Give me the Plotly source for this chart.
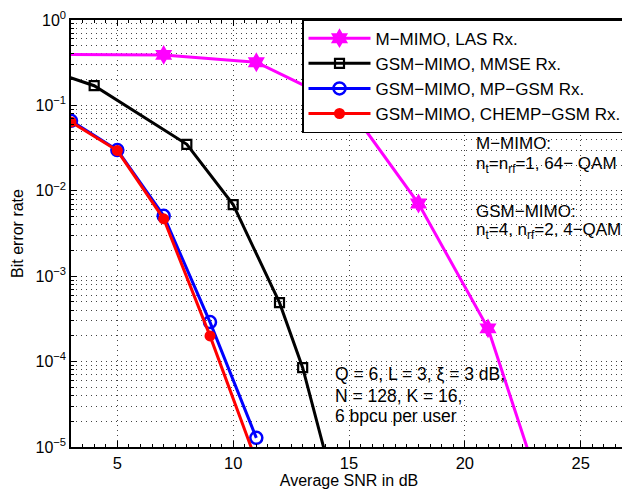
import plotly.graph_objects as go

# ---- data ----
las_snr = [0, 7, 11, 15, 18, 21, 24]
las_ber = [0.40, 0.39, 0.32, 0.095, 7.1e-3, 2.45e-4, 8.1e-7]

mmse_snr = [2, 4, 8, 10, 12, 13, 14]
mmse_ber = [0.26, 0.17, 0.035, 0.0069, 4.9e-4, 8.5e-5, 7.9e-6]

mpgsm_snr = [3, 5, 7, 9, 11]
mpgsm_ber = [0.066, 0.030, 0.0051, 2.9e-4, 1.28e-5]

chemp_snr = [3, 5, 7, 9, 11]
chemp_ber = [0.064, 0.0296, 0.0047, 2.0e-4, 6.8e-6]

names = ["M\u2212MIMO, LAS Rx.", "GSM\u2212MIMO, MMSE Rx.",
         "GSM\u2212MIMO, MP\u2212GSM Rx.", "GSM\u2212MIMO, CHEMP\u2212GSM Rx."]

ytickvals = [1e-5, 1e-4, 1e-3, 1e-2, 1e-1, 1]
yticktext = ["10<sup>\u22125</sup>", "10<sup>\u22124</sup>", "10<sup>\u22123</sup>",
             "10<sup>\u22122</sup>", "10<sup>\u22121</sup>", "10<sup>0</sup>"]
xtickvals = [5, 10, 15, 20, 25]

FONT = "Liberation Sans, Arial, Helvetica, sans-serif"

fig = go.Figure()
fig.add_trace(go.Scatter(x=las_snr, y=las_ber, name=names[0], mode="lines+markers",
                         line=dict(color="#ff00ff", width=3),
                         marker=dict(symbol="hexagram", size=15, color="#ff00ff")))
fig.add_trace(go.Scatter(x=mmse_snr, y=mmse_ber, name=names[1], mode="lines+markers",
                         line=dict(color="black", width=3),
                         marker=dict(symbol="square-open", size=9, color="black",
                                     line=dict(width=2.2, color="black"))))
fig.add_trace(go.Scatter(x=mpgsm_snr, y=mpgsm_ber, name=names[2], mode="lines+markers",
                         line=dict(color="#0000ff", width=3),
                         marker=dict(symbol="circle-open", size=12, color="#0000ff",
                                     line=dict(width=2.5, color="#0000ff"))))
fig.add_trace(go.Scatter(x=chemp_snr, y=chemp_ber, name=names[3], mode="lines+markers",
                         line=dict(color="#ff0000", width=3),
                         marker=dict(symbol="circle", size=11, color="#ff0000")))

grid_col = "#444444"
gdash = "1px,4px"
fig.update_xaxes(range=[3, 27], tickvals=xtickvals, ticks="inside", ticklen=6,
                 tickcolor="black", showline=True, linecolor="black", linewidth=1.5,
                 mirror="ticks", showgrid=True, gridcolor=grid_col, griddash=gdash,
                 gridwidth=1, zeroline=False,
                 tickfont=dict(size=16.5, color="black", family=FONT),
                 title=dict(text="Average SNR in dB", standoff=2,
                            font=dict(size=16, color="black", family=FONT)),
                 minor=dict(dtick=0.5, ticks="inside", ticklen=3, tickcolor="black"))
fig.update_yaxes(type="log", range=[-5, 0], tickvals=ytickvals, ticktext=yticktext,
                 ticks="inside", ticklen=6, tickcolor="black", showline=True,
                 linecolor="black", linewidth=1.5, mirror="ticks", showgrid=True,
                 gridcolor=grid_col, griddash=gdash, gridwidth=1, zeroline=False,
                 ticklabeloverflow="allow",
                 tickfont=dict(size=16, color="black", family=FONT),
                 title=dict(text="Bit error rate", standoff=8,
                            font=dict(size=16, color="black", family=FONT)),
                 minor=dict(dtick="D1", showgrid=True, gridcolor=grid_col,
                            griddash=gdash, gridwidth=1, ticks="inside", ticklen=3,
                            tickcolor="black"))

# (paper x, paper y, text, font size) -- one annotation per text line
annots = [
    (0.724, 0.711, "M\u2212MIMO:", 17),
    (0.724, 0.661, "n<sub>t</sub>=n<sub>rf</sub>=1, 64\u2212 QAM", 17),
    (0.724, 0.551, "GSM\u2212MIMO:", 17),
    (0.724, 0.505, "n<sub>t</sub>=4, n<sub>rf</sub>=2, 4\u2212QAM", 17),
    (0.471, 0.171, "Q = 6, L = 3, \u03be = 3 dB,", 17.5),
    (0.471, 0.120, "N = 128, K = 16,", 17.5),
    (0.471, 0.073, "6 bpcu per user", 17.5),
]
for ax_, ay_, txt, fs in annots:
    fig.add_annotation(xref="paper", yref="paper", x=ax_, y=ay_, text=txt,
                       xanchor="left", yanchor="middle", align="left",
                       showarrow=False, bgcolor="rgba(0,0,0,0)",
                       font=dict(size=fs, color="black", family=FONT))

fig.update_layout(
    width=622, height=483,
    margin=dict(l=63, r=1, t=11, b=44),
    paper_bgcolor="white", plot_bgcolor="white",
    font=dict(family=FONT, color="black"),
    legend=dict(x=1, y=1.002, xanchor="right", yanchor="top",
                bgcolor="white", bordercolor="black", borderwidth=1.5,
                font=dict(size=17, color="black", family=FONT),
                tracegroupgap=0, itemwidth=62),
    showlegend=True,
)

fig.write_html("out.html")
